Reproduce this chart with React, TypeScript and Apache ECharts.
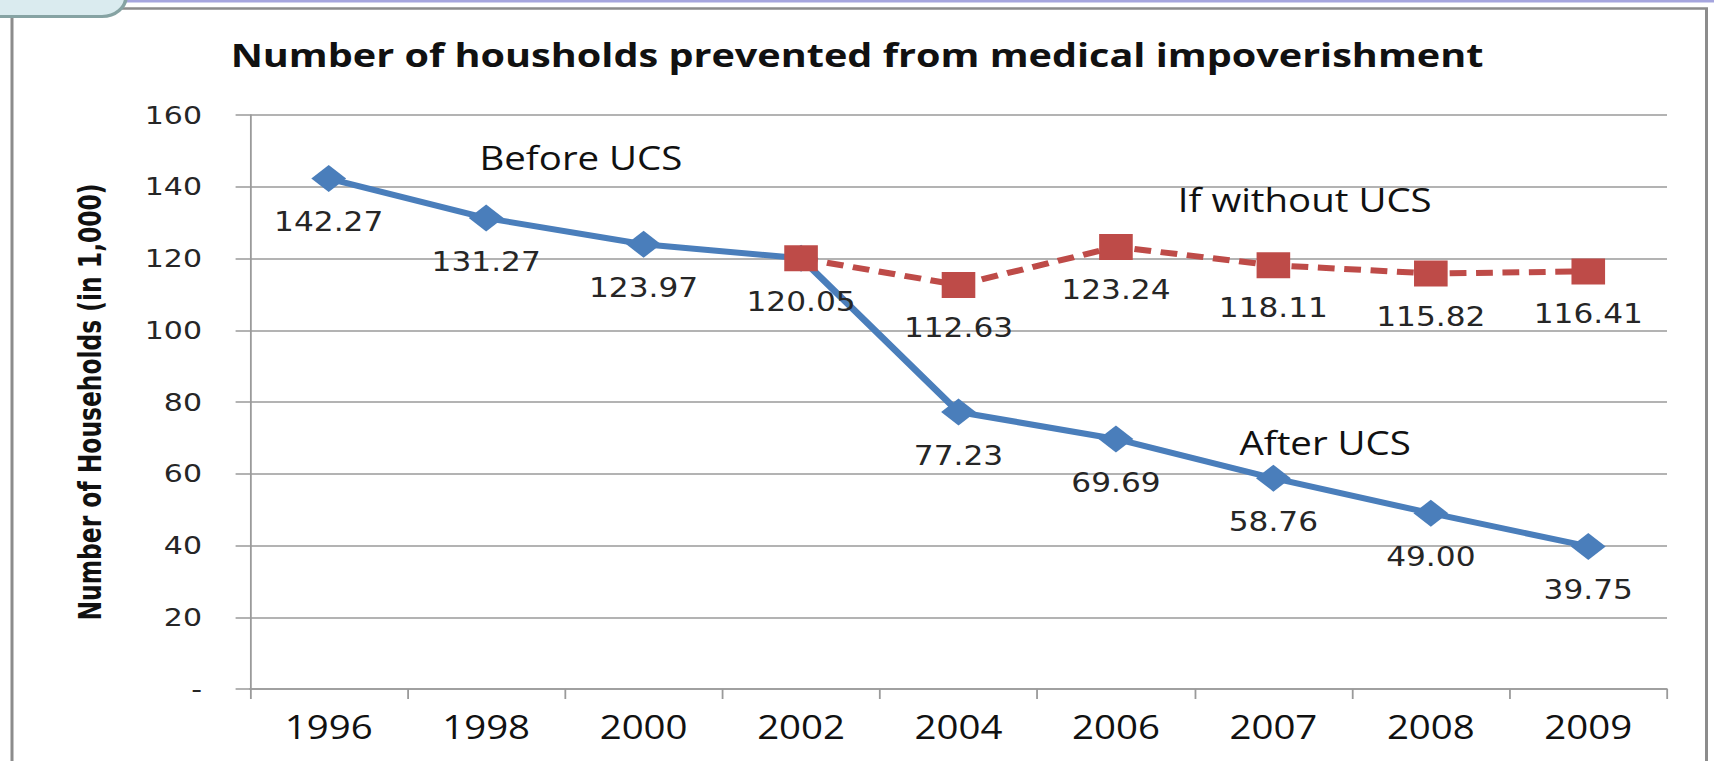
import React, { useEffect, useRef } from "react";
import * as echarts from "echarts";

const categories = ["1996", "1998", "2000", "2002", "2004", "2006", "2007", "2008", "2009"];
const afterUCS = [142.27, 131.27, 123.97, 120.05, 77.23, 69.69, 58.76, 49.0, 39.75];
const withoutUCS = [null, null, null, 120.05, 112.63, 123.24, 118.11, 115.82, 116.41];
const yMin = 0;
const yMax = 160;
const yStep = 20;
const titleText = "Number of housholds prevented from medical impoverishment";
const yAxisTitle = "Number of Households (in 1,000)";
const notes = [
  { text: "Before UCS", x: 484, y: 157 },
  { text: "If without UCS", x: 1087, y: 199 },
  { text: "After UCS", x: 1104, y: 442 },
];

const W = 1428;
const H = 761;
const S = 1714 / W;

export default function App() {
  const ref = useRef<HTMLDivElement>(null);
  useEffect(() => {
    if (!ref.current) return;
    const chart = echarts.init(ref.current, null, { renderer: "svg" });
    const labelStyle = {
      show: true,
      position: "bottom" as const,
      distance: 17,
      fontFamily: "DejaVu Sans",
      fontSize: 26,
      color: "#262626",
      formatter: (p: any) => Number(p.value).toFixed(2),
    };
    chart.setOption({
      animation: false,
      backgroundColor: "#ffffff",
      title: {
        text: titleText,
        left: "center",
        top: 33,
        textStyle: { fontFamily: "Open Sans", fontWeight: "bold", fontSize: 33, color: "#111" },
      },
      grid: { left: 250 / S, right: W - 1667 / S, top: 115, bottom: 72, containLabel: false },
      xAxis: {
        type: "category",
        data: categories,
        boundaryGap: true,
        axisLine: { lineStyle: { color: "#9a9a9a", width: 1.5 } },
        axisTick: { show: true, length: 10, interval: 0, lineStyle: { color: "#9a9a9a", width: 1.5 } },
        axisLabel: { interval: 0, margin: 21, fontFamily: "Open Sans", fontSize: 32, color: "#111" },
      },
      yAxis: {
        type: "value",
        min: yMin,
        max: yMax,
        interval: yStep,
        name: yAxisTitle,
        nameLocation: "middle",
        nameRotate: 90,
        nameGap: 120,
        nameTextStyle: {
          fontFamily: "Liberation Sans Narrow, DejaVu Sans Condensed, sans-serif",
          fontWeight: "bold",
          fontSize: 26,
          color: "#111",
        },
        axisLine: { show: true, lineStyle: { color: "#9a9a9a", width: 1.5 } },
        axisTick: { show: true, length: 12, lineStyle: { color: "#9a9a9a", width: 1.5 } },
        splitLine: { show: true, lineStyle: { color: "#9a9a9a", width: 1.5 } },
        axisLabel: {
          margin: 40,
          fontFamily: "DejaVu Sans",
          fontSize: 25,
          color: "#262626",
          formatter: (v: number) => (v === 0 ? "-" : String(v)),
        },
      },
      series: [
        {
          name: "After UCS",
          type: "line",
          data: afterUCS,
          symbol: "diamond",
          symbolSize: [29, 27],
          itemStyle: { color: "#4A7EBB" },
          lineStyle: { color: "#4A7EBB", width: 6 },
          label: labelStyle,
          z: 2,
        },
        {
          name: "If without UCS",
          type: "line",
          data: withoutUCS.map((v, i) =>
            i === 3 ? { value: v, label: { show: false } } : v
          ),
          symbol: "rect",
          symbolSize: [28, 26],
          itemStyle: { color: "#BE4B48" },
          lineStyle: { color: "#BE4B48", width: 6, type: [14, 8] },
          label: labelStyle,
          z: 3,
        },
      ],
      graphic: [
        { type: "rect", shape: { x: 0, y: 0, width: W, height: 2.5 }, style: { fill: "#A5A5DE" }, z: 10 },
        {
          type: "rect",
          shape: { x: 10, y: 8.5, width: 1706.5 / S - 10, height: 800 },
          style: { fill: "none", stroke: "#8C8C8C", lineWidth: 2.5 },
          z: 10,
        },
        {
          type: "rect",
          shape: { x: -10, y: -10, width: 138 / S, height: 26.5, r: [0, 0, 20, 0] },
          style: { fill: "#DAEBEF", stroke: "#86A3A3", lineWidth: 3 },
          z: 11,
        },
        ...notes.map((n) => ({
          type: "text",
          x: n.x,
          y: n.y,
          style: {
            text: n.text,
            font: "32px 'Open Sans'",
            fill: "#111",
            align: "center",
            verticalAlign: "middle",
            textAlign: "center",
            textVerticalAlign: "middle",
          },
          z: 12,
        })),
      ],
    });
    return () => chart.dispose();
  }, []);
  return (
    <div
      ref={ref}
      style={{
        position: "fixed",
        left: 0,
        top: 0,
        width: W + "px",
        height: H + "px",
        transform: `scaleX(${S})`,
        transformOrigin: "0 0",
        background: "#fff",
      }}
    />
  );
}
